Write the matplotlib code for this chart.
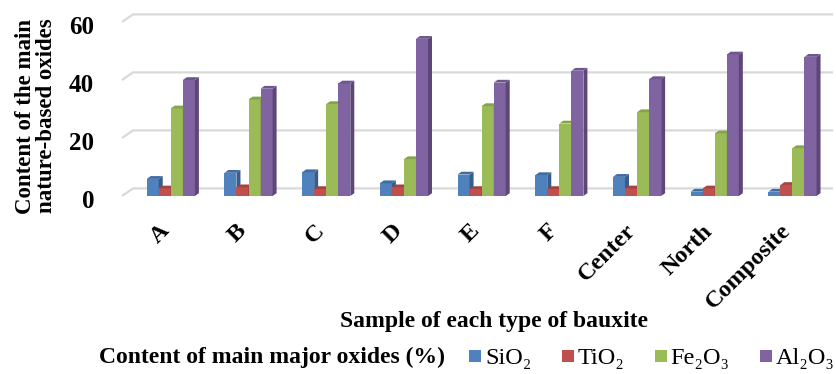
import numpy as np
import matplotlib
matplotlib.use("Agg")
import matplotlib.pyplot as plt
from matplotlib.patches import Polygon
from matplotlib.lines import Line2D
from matplotlib.transforms import ScaledTranslation

plt.rcParams['font.family'] = ['Liberation Serif', 'DejaVu Serif']

# oxide content per bauxite sample (%)
samples = ["A", "B", "C", "D", "E", "F", "Center", "North", "Composite"]
oxides = ["SiO\u2082", "TiO\u2082", "Fe\u2082O\u2083", "Al\u2082O\u2083"]
sio2 = [5.9, 8.0, 8.2, 4.4, 7.4, 7.2, 6.6, 1.5, 1.5]
tio2 = [2.6, 3.0, 2.4, 3.0, 2.4, 2.4, 2.6, 2.6, 3.8]
fe2o3 = [30.2, 33.3, 31.7, 12.7, 31.0, 25.0, 28.9, 21.6, 16.5]
al2o3 = [40.0, 37.0, 38.8, 54.2, 39.1, 43.2, 40.3, 48.8, 48.0]
yticks = [0, 20, 40, 60]

front = ["#4F81BD", "#C0504D", "#9BBB59", "#8064A2"]
side = ["#385D8A", "#8C3836", "#71893F", "#5C4776"]
top = ["#3F6CA3", "#A8423F", "#86A34B", "#6E568F"]

W, H = 836, 374
fig = plt.figure(figsize=(W / 100, H / 100), dpi=100)
# plot box in pixels: x 122..833, y 196 (value 0) .. 22 (value 60)
ax = fig.add_axes([122 / W, (H - 196) / H, (833 - 122) / W, 174 / H])
xmin, xmax = -0.628, 8.522
ax.set_xlim(xmin, xmax)
ax.set_ylim(0, 60)
for s in ax.spines.values():
    s.set_visible(False)

px_x = (xmax - xmin) / (833 - 122)   # data units per pixel
px_y = 60 / 174

# back wall gridlines with a short diagonal at the left
fdx, fdy = 11 * px_x, 7.6 * px_y
for v in yticks:
    ax.plot([xmin, xmin + fdx, xmax], [v, v + fdy, v + fdy],
            color="#D9D9D9", lw=1.6, zorder=0, clip_on=False,
            solid_capstyle="butt")

# bars with a small depth offset for the 3d look
series = [sio2, tio2, fe2o3, al2o3]
x = np.arange(len(samples))
w = 0.155
bdx, bdy = 4 * px_x, 2.8 * px_y
for i in range(len(samples)):
    for j, vals in enumerate(series):
        xl = x[i] + (j - 2) * w
        h = vals[i]
        ax.bar(xl, h, width=w, align="edge", color=front[j],
               zorder=2 + j, clip_on=False, lw=0)
        ax.add_patch(Polygon([(xl + w, 0), (xl + w + bdx, bdy),
                              (xl + w + bdx, h + bdy), (xl + w, h)],
                             closed=True, fc=side[j], lw=0,
                             zorder=2 + j, clip_on=False))
        ax.add_patch(Polygon([(xl, h), (xl + w, h), (xl + w + bdx, h + bdy),
                              (xl + bdx, h + bdy)],
                             closed=True, fc=top[j], lw=0,
                             zorder=2 + j, clip_on=False))

ax.set_yticks(yticks)
ax.set_yticklabels([str(t) for t in yticks], fontsize=18, fontweight="bold")
ax.tick_params(axis="y", length=0, pad=20)
for lab in ax.get_yticklabels():
    lab.set_transform(lab.get_transform() + ScaledTranslation(0, -3 / 100, fig.dpi_scale_trans))

ax.set_xticks(x)
ax.set_xticklabels(samples, fontsize=17.5, fontweight="bold", rotation=45,
                   ha="right", va="center", rotation_mode="anchor")
ax.tick_params(axis="x", length=0, pad=23)
for lab in ax.get_xticklabels():
    lab.set_transform(lab.get_transform() + ScaledTranslation(-5 / 100, 0, fig.dpi_scale_trans))

fig.text(36 / W, 1 - 116 / H, "Content of the main\nnature-based oxides",
         rotation=90, ha="center", va="center", fontsize=16.5,
         fontweight="bold", linespacing=0.95)
fig.text(494 / W, 1 - 322 / H, "Sample of each type of bauxite",
         ha="center", va="center", fontsize=17, fontweight="bold")
fig.text(99 / W, 1 - 357 / H, "Content of main major oxides (%)",
         ha="left", va="center", fontsize=17, fontweight="bold")

handles = [Line2D([], [], ls="none", marker="s", markersize=8,
                  markerfacecolor=c, markeredgewidth=0) for c in front]
fig.legend(handles, oxides, loc="center left",
           bbox_to_anchor=(468 / W, 1 - 358 / H), ncol=4, frameon=False,
           fontsize=17.5, handlelength=0.6, handletextpad=0.1,
           columnspacing=1.2, borderaxespad=0, borderpad=0)

fig.savefig("out.png", dpi=100)
